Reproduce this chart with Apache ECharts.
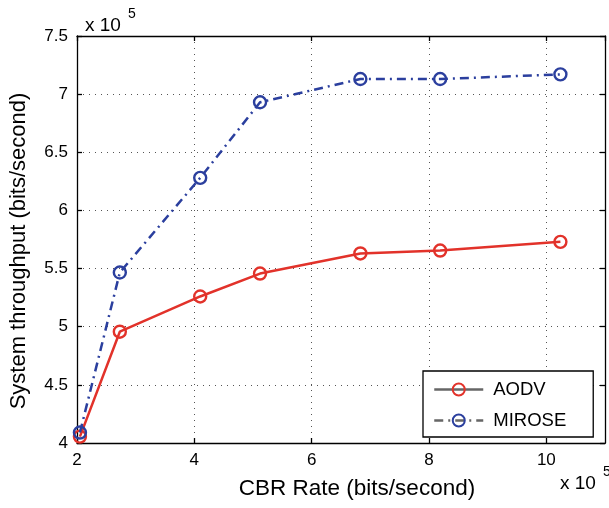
<!DOCTYPE html>
<html>
<head>
<meta charset="utf-8">
<script src="https://cdn.jsdelivr.net/npm/echarts@6/dist/echarts.min.js"></script>
<style>html,body{margin:0;padding:0;background:#fff}#c{width:609px;height:508px}</style>
</head>
<body>
<div id="c"></div>
<script>
const cbrRate = [2.05, 2.73, 4.1, 5.12, 6.83, 8.19, 10.24];
const aodv = [4.055, 4.957, 5.26, 5.457, 5.63, 5.655, 5.73];
const mirose = [4.09, 5.466, 6.28, 6.93, 7.13, 7.13, 7.17];
const seriesNames = ['AODV', 'MIROSE'];
const xLabel = 'CBR Rate (bits/second)';
const yLabel = 'System throughput (bits/second)';

const FONT = '"Liberation Sans", Arial, Helvetica, sans-serif';
const RED = '#e2322a', BLUE = '#2b3f9e';
const chart = echarts.init(document.getElementById('c'), null, {renderer: 'canvas'});

const gridLine = {show: true, lineStyle: {color: '#555', width: 1, type: [1, 5]}};
const axisLine = {show: true, lineStyle: {color: '#000', width: 1.3}};
const tick = {show: true, inside: true, length: 5, lineStyle: {color: '#000', width: 1.3}};
const sup = {
  a: {fontSize: 19, fontFamily: FONT, fill: '#000', verticalAlign: 'bottom', padding: [9, 0, 0, 0]},
  b: {fontSize: 14, fontFamily: FONT, fill: '#000', verticalAlign: 'top', padding: [0, 0, 0, 7]}
};

chart.setOption({
  animation: false,
  backgroundColor: '#fff',
  grid: {left: 77, right: 4, top: 36, bottom: 65, containLabel: false},
  xAxis: [
    {type: 'value', min: 2, max: 11, interval: 2, position: 'bottom',
     axisLine: axisLine, axisTick: tick, splitLine: gridLine,
     axisLabel: {show: true, showMaxLabel: false, color: '#000', fontSize: 17, fontFamily: FONT, margin: 9}},
    {type: 'value', min: 2, max: 11, interval: 2, position: 'top',
     axisLine: axisLine, axisTick: tick, splitLine: {show: false}, axisLabel: {show: false}}
  ],
  yAxis: [
    {type: 'value', min: 4, max: 7.5, interval: 0.5, position: 'left',
     axisLine: axisLine, axisTick: tick, splitLine: gridLine,
     axisLabel: {color: '#000', fontSize: 17, fontFamily: FONT, margin: 9}},
    {type: 'value', min: 4, max: 7.5, interval: 0.5, position: 'right',
     axisLine: axisLine, axisTick: tick, splitLine: {show: false}, axisLabel: {show: false}}
  ],
  legend: {
    show: true, orient: 'vertical', left: 423, top: 371,
    padding: [9, 27, 7, 10], itemGap: 12, itemWidth: 49, itemHeight: 15,
    backgroundColor: '#fff', borderColor: '#000', borderWidth: 1.3,
    textStyle: {color: '#000', fontSize: 18.5, fontFamily: FONT, padding: [0, 0, 0, 5]},
    data: [
      {name: seriesNames[0], lineStyle: {color: '#666', width: 2.5}},
      {name: seriesNames[1], lineStyle: {color: '#666', width: 2.5}}
    ]
  },
  series: [
    {name: seriesNames[0], type: 'line', xAxisIndex: 0, yAxisIndex: 0,
     data: cbrRate.map((x, i) => [x, aodv[i]]),
     symbol: 'circle', symbolSize: 12, showAllSymbol: true,
     lineStyle: {color: RED, width: 2.5, type: 'solid'},
     itemStyle: {color: 'rgba(255,255,255,0)', borderColor: RED, borderWidth: 2.4}, z: 3},
    {name: seriesNames[1], type: 'line', xAxisIndex: 0, yAxisIndex: 0,
     data: cbrRate.map((x, i) => [x, mirose[i]]),
     symbol: 'circle', symbolSize: 12, showAllSymbol: true,
     lineStyle: {color: BLUE, width: 2.5, type: [9, 5, 2, 5]},
     itemStyle: {color: 'rgba(255,255,255,0)', borderColor: BLUE, borderWidth: 2.4}, z: 4}
  ],
  graphic: [
    {type: 'text', left: 85, top: 7, style: {text: '{a|x 10}{b|5}', rich: sup}},
    {type: 'text', left: 560, top: 465, style: {text: '{a|x 10}{b|5}', rich: sup}},
    {type: 'text', x: 357, y: 489,
     style: {text: xLabel, fontSize: 22.5, fontFamily: FONT, fill: '#000', align: 'center', verticalAlign: 'middle'}},
    {type: 'text', x: 19, y: 251, rotation: Math.PI / 2,
     style: {text: yLabel, fontSize: 22, fontFamily: FONT, fill: '#000', align: 'center', verticalAlign: 'middle'}}
  ]
});
</script>
</body>
</html>
